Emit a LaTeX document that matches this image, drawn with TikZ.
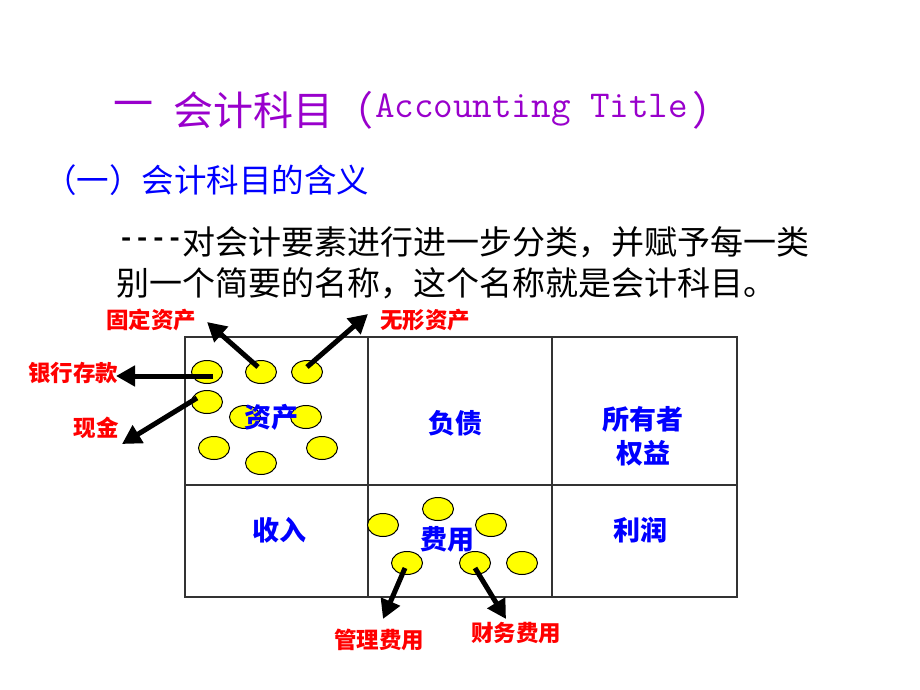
\documentclass[tikz,border=0pt]{standalone}
\usepackage{fontspec}
\usetikzlibrary{arrows.meta,shapes.geometric}
\newfontfamily\cjk{Noto Sans CJK SC}
\newfontfamily\mono{Liberation Mono}
\definecolor{ttlpurple}{HTML}{9900CC}
\definecolor{sbblue}{HTML}{0000FF}
\definecolor{lbred}{HTML}{FF0000}
\definecolor{ballyel}{HTML}{FFFF00}
\begin{document}
\begin{tikzpicture}[x=1pt,y=-1pt,
  txt/.style={inner sep=0pt, outer sep=0pt, anchor=west},
  cell/.style={inner sep=0pt, font=\cjk\bfseries\fontsize{27}{33}\selectfont, text=sbblue, align=center},
  tag/.style={inner sep=0pt, font=\cjk\bfseries\fontsize{22.5}{26}\selectfont, text=lbred},
  ball/.style={ellipse, draw=black, line width=1pt, fill=ballyel, minimum width=31pt, minimum height=23pt, inner sep=0pt},
  arr/.style={line width=5pt, -{Triangle[length=19pt,width=20pt]}},
  grid/.style={draw=black!80, line width=2pt}]
\useasboundingbox (0,0) rectangle (920,690);
\fill[white] (0,0) rectangle (920,690);
% title
\node[txt, text=ttlpurple, font=\cjk\fontsize{40}{46}\selectfont] (t1) at (113,110) {一};
\node[txt, text=ttlpurple, font=\cjk\fontsize{40}{46}\selectfont] (t2) at (173,110) {会计科目（};
\node[txt, text=ttlpurple, font=\ttfamily\fontsize{38}{46}\selectfont] (t3) at ([xshift=2pt]t2.east) {Accounting Title};
\node[txt, text=ttlpurple, font=\cjk\fontsize{40}{46}\selectfont] (t4) at ([xshift=4pt]t3.east) {）};
% subtitle
\node[txt, text=sbblue, font=\cjk\fontsize{32.5}{38}\selectfont] (st) at (44,180) {（一）会计科目的含义};
% body
\node[txt, font=\mono\bfseries\fontsize{27}{33}\selectfont] (bd) at (118,242) {----};
\node[txt, font=\cjk\fontsize{33}{40}\selectfont] (b1) at (bd.east) {对会计要素进行进一步分类，并赋予每一类};
\node[txt, font=\cjk\fontsize{33}{40}\selectfont] (b2) at (116,283) {别一个简要的名称，这个名称就是会计科目。};
% table
\draw[grid] (185,337) rectangle (737,597);
\draw[grid] (368,337) -- (368,597);
\draw[grid] (552,337) -- (552,597);
\draw[grid] (185,485) -- (737,485);
% balls (assets)
\node[ball] (a1) at (207,372) {};
\node[ball] (a2) at (261,372) {};
\node[ball] (a3) at (307,372) {};
\node[ball] (a4) at (207,402) {};
\node[ball] (a5) at (245,417) {};
\node[ball] (a6) at (306,417) {};
\node[ball] (a7) at (214,448) {};
\node[ball] (a8) at (322,448) {};
\node[ball] (a9) at (261,463) {};
% balls (expenses)
\node[ball] (b1e) at (383,525) {};
\node[ball] (b2e) at (438,509) {};
\node[ball] (b3e) at (491,525) {};
\node[ball] (b4e) at (407,563) {};
\node[ball] (b5e) at (475,563) {};
\node[ball] (b6e) at (522,563) {};
% cell labels
\node[cell] (c1) at (271,417) {资产};
\node[cell] (c2) at (455,423) {负债};
\node[cell] (c3) at (643,436) {所有者\\[1pt]权益};
\node[cell] (c4) at (279,530) {收入};
\node[cell] (c5) at (447,539) {费用};
\node[cell] (c6) at (640,530) {利润};
% red tags
\node[tag] (g1) at (151,320) {固定资产};
\node[tag] (g2) at (425,320) {无形资产};
\node[tag] (g3) at (73,373) {银行存款};
\node[tag] (g4) at (96,428) {现金};
\node[tag] (g5) at (379,640) {管理费用};
\node[tag] (g6) at (516,633) {财务费用};
% arrow ends
\coordinate (e1) at (207,322);
\coordinate (e2) at (368,314);
\coordinate (e3) at (116,376);
\coordinate (e4) at (122,444);
\coordinate (e5) at (383,619);
\coordinate (e6) at (506,619);
% arrows
\draw[arr] ([shift={(-3,-5)}]a2.center) -- (e1);
\draw[arr] ([shift={(0,-5)}]a3.center) -- (e2);
\draw[arr] ([shift={(6,4)}]a1.center) -- (e3);
\draw[arr] ([shift={(-10,-4)}]a4.center) -- (e4);
\draw[arr] ([shift={(-2,5)}]b4e.center) -- (e5);
\draw[arr] ([shift={(0,5)}]b5e.center) -- (e6);
\end{tikzpicture}
\end{document}
